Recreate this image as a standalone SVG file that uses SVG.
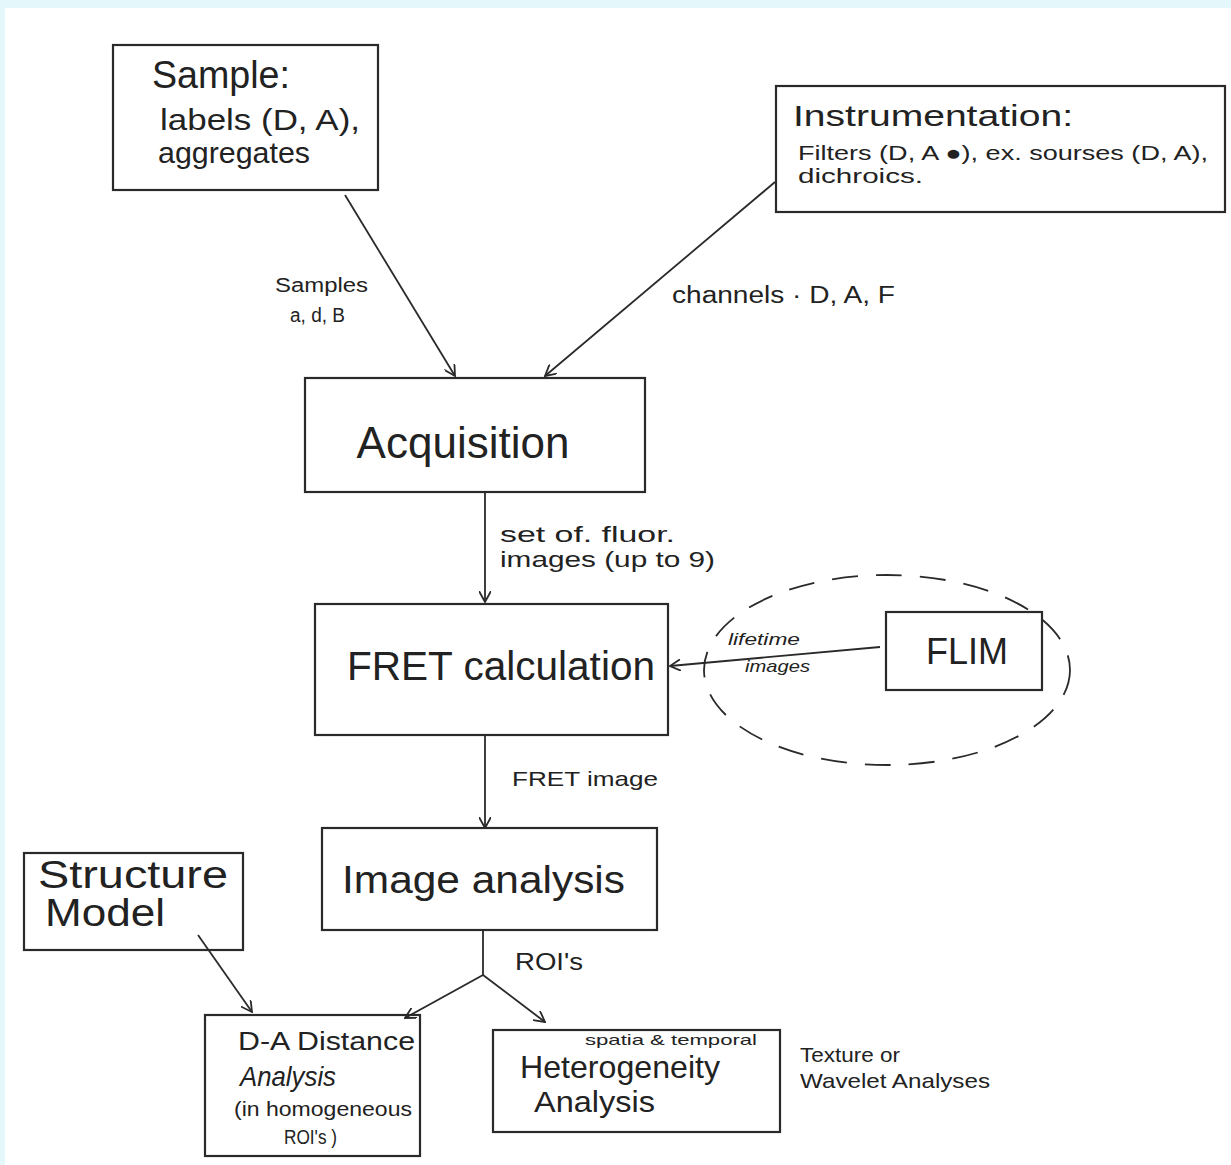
<svg xmlns="http://www.w3.org/2000/svg" width="1231" height="1165" viewBox="0 0 1231 1165">
<defs>
<marker id="ah" viewBox="0 0 12 12" refX="11" refY="6" markerWidth="12" markerHeight="12" markerUnits="userSpaceOnUse" orient="auto">
<path d="M0,0 L11,6 L0,12" fill="none" stroke="#2a2a2a" stroke-width="1.8"/>
</marker>
</defs>
<style>
.box{fill:none;stroke:#2a2a2a;stroke-width:2.2}
.ln{fill:none;stroke:#2a2a2a;stroke-width:1.8}
.t{font-family:"Liberation Sans",Arial,sans-serif;fill:#222}
</style>
<rect x="0" y="0" width="1231" height="1165" fill="#ffffff"/>
<rect x="0" y="0" width="1231" height="8" fill="#e4f8fc"/>
<rect x="0" y="0" width="5" height="1165" fill="#e4f8fc"/>

<g id="connectors">
<line class="ln" x1="345" y1="195" x2="455" y2="376" marker-end="url(#ah)"/>
<line class="ln" x1="775" y1="182" x2="545" y2="376" marker-end="url(#ah)"/>
<line class="ln" x1="485" y1="492" x2="485" y2="602" marker-end="url(#ah)"/>
<line class="ln" x1="880" y1="647" x2="670" y2="666" marker-end="url(#ah)"/>
<line class="ln" x1="485" y1="735" x2="485" y2="828" marker-end="url(#ah)"/>
<polyline class="ln" points="483,930 483,975"/>
<line class="ln" x1="483" y1="975" x2="405" y2="1018" marker-end="url(#ah)"/>
<line class="ln" x1="483" y1="975" x2="545" y2="1022" marker-end="url(#ah)"/>
<line class="ln" x1="198" y1="935" x2="252" y2="1012" marker-end="url(#ah)"/>
<text class="t" x="275" y="292" font-size="20" textLength="93" lengthAdjust="spacingAndGlyphs">Samples</text>
<text class="t" x="290" y="322" font-size="20" textLength="55" lengthAdjust="spacingAndGlyphs">a, d, B</text>
<text class="t" x="672" y="303" font-size="23" textLength="223" lengthAdjust="spacingAndGlyphs">channels · D, A, F</text>
<text class="t" x="500" y="542" font-size="22" textLength="175" lengthAdjust="spacingAndGlyphs">set of. fluor.</text>
<text class="t" x="500" y="567" font-size="22" textLength="215" lengthAdjust="spacingAndGlyphs">images (up to 9)</text>
<text class="t" x="728" y="645" font-size="17" font-style="italic" textLength="72" lengthAdjust="spacingAndGlyphs">lifetime</text>
<text class="t" x="745" y="672" font-size="17" font-style="italic" textLength="65" lengthAdjust="spacingAndGlyphs">images</text>
<text class="t" x="512" y="786" font-size="21" textLength="146" lengthAdjust="spacingAndGlyphs">FRET image</text>
<text class="t" x="515" y="970" font-size="23" textLength="68" lengthAdjust="spacingAndGlyphs">ROI's</text>
</g>

<g id="sample">
<rect class="box" x="113" y="45" width="265" height="145"/>
<text class="t" x="152" y="88" font-size="38" textLength="138" lengthAdjust="spacingAndGlyphs">Sample:</text>
<text class="t" x="160" y="130" font-size="29" textLength="200" lengthAdjust="spacingAndGlyphs">labels (D, A),</text>
<text class="t" x="158" y="163" font-size="29" textLength="152" lengthAdjust="spacingAndGlyphs">aggregates</text>
</g>

<g id="instrumentation">
<rect class="box" x="776" y="86" width="449" height="126"/>
<text class="t" x="793" y="126" font-size="30" textLength="280" lengthAdjust="spacingAndGlyphs">Instrumentation:</text>
<text class="t" x="798" y="160" font-size="21" textLength="410" lengthAdjust="spacingAndGlyphs">Filters (D, A ●), ex. sourses (D, A),</text>
<text class="t" x="798" y="183" font-size="21" textLength="125" lengthAdjust="spacingAndGlyphs">dichroics.</text>
</g>

<g id="acquisition">
<rect class="box" x="305" y="378" width="340" height="114"/>
<text class="t" x="463" y="458" font-size="44" text-anchor="middle">Acquisition</text>
</g>

<g id="fret">
<rect class="box" x="315" y="604" width="353" height="131"/>
<text class="t" x="347" y="680" font-size="40" textLength="308" lengthAdjust="spacingAndGlyphs">FRET calculation</text>
</g>

<g id="flim">
<ellipse cx="887" cy="670" rx="183" ry="95" fill="none" stroke="#2a2a2a" stroke-width="1.8" stroke-dasharray="26,18"/>
<rect class="box" x="886" y="612" width="156" height="78"/>
<text class="t" x="967" y="664" font-size="36" text-anchor="middle">FLIM</text>
</g>

<g id="image-analysis">
<rect class="box" x="322" y="828" width="335" height="102"/>
<text class="t" x="342" y="893" font-size="38" textLength="283" lengthAdjust="spacingAndGlyphs">Image analysis</text>
</g>

<g id="structure-model">
<rect class="box" x="24" y="853" width="219" height="97"/>
<text class="t" x="38" y="888" font-size="38" textLength="190" lengthAdjust="spacingAndGlyphs">Structure</text>
<text class="t" x="45" y="926" font-size="38" textLength="120" lengthAdjust="spacingAndGlyphs">Model</text>
</g>

<g id="da-distance">
<rect class="box" x="205" y="1015" width="215" height="141"/>
<text class="t" x="238" y="1050" font-size="25" textLength="177" lengthAdjust="spacingAndGlyphs">D-A Distance</text>
<text class="t" x="240" y="1086" font-size="28" font-style="italic" textLength="96" lengthAdjust="spacingAndGlyphs">Analysis</text>
<text class="t" x="234" y="1116" font-size="21" textLength="178" lengthAdjust="spacingAndGlyphs">(in homogeneous</text>
<text class="t" x="284" y="1144" font-size="21" textLength="53" lengthAdjust="spacingAndGlyphs">ROI's )</text>
</g>

<g id="heterogeneity">
<rect class="box" x="493" y="1030" width="287" height="102"/>
<text class="t" x="585" y="1045" font-size="15" textLength="172" lengthAdjust="spacingAndGlyphs">spatia &amp; temporal</text>
<text class="t" x="520" y="1078" font-size="32" textLength="200" lengthAdjust="spacingAndGlyphs">Heterogeneity</text>
<text class="t" x="534" y="1112" font-size="30" textLength="121" lengthAdjust="spacingAndGlyphs">Analysis</text>
</g>

<g id="texture-note">
<text class="t" x="800" y="1062" font-size="21" textLength="100" lengthAdjust="spacingAndGlyphs">Texture or</text>
<text class="t" x="800" y="1088" font-size="21" textLength="190" lengthAdjust="spacingAndGlyphs">Wavelet Analyses</text>
</g>
</svg>
